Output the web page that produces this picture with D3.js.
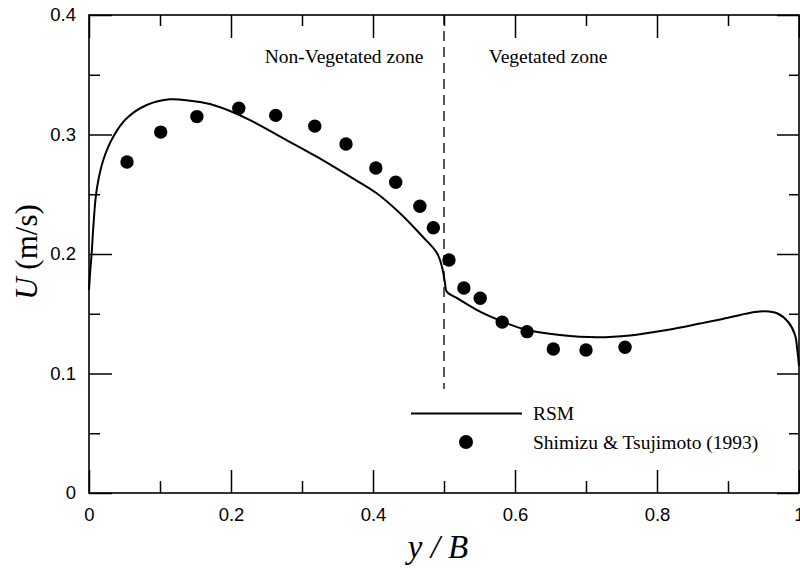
<!DOCTYPE html>
<html>
<head>
<meta charset="utf-8">
<script src="https://cdn.jsdelivr.net/npm/d3@7"></script>
<style>
  body { margin: 0; background: #fff; }
  svg { display: block; }
</style>
</head>
<body>
<div id="chart"></div>
<script>
// RSM model profile
const rsmX = [0, 0.002, 0.0038, 0.0061, 0.0108, 0.0201, 0.0342, 0.0531, 0.0813, 0.1141, 0.1423, 0.1704,
  0.1986, 0.2268, 0.2737, 0.3207, 0.3676, 0.4052, 0.438, 0.4704, 0.4901, 0.4972, 0.5014, 0.5038,
  0.5179, 0.5507, 0.5831, 0.6169, 0.6634, 0.7151, 0.762, 0.8137, 0.8606, 0.8887, 0.9169, 0.938,
  0.9521, 0.969, 0.9845, 0.9944, 0.9976, 1.0];
const rsmU = [0.170, 0.188, 0.2008, 0.2228, 0.2536, 0.2787, 0.2982, 0.3136, 0.3247, 0.3295, 0.3283, 0.3255,
  0.3197, 0.3121, 0.2968, 0.2814, 0.2647, 0.2508, 0.2341, 0.2142, 0.2008, 0.1891, 0.1757, 0.1685,
  0.1632, 0.1517, 0.1433, 0.1364, 0.1322, 0.1303, 0.1318, 0.1364, 0.1418, 0.1452, 0.149, 0.1515,
  0.1521, 0.1504, 0.1433, 0.1322, 0.1197, 0.1063];

// Shimizu & Tsujimoto (1993) measurements
const expX = [0.0535, 0.101, 0.152, 0.211, 0.263, 0.318, 0.362, 0.404, 0.432, 0.466, 0.485, 0.507,
  0.528, 0.551, 0.582, 0.617, 0.654, 0.700, 0.755];
const expU = [0.277, 0.302, 0.315, 0.322, 0.316, 0.307, 0.292, 0.272, 0.260, 0.240, 0.222, 0.195,
  0.1715, 0.163, 0.143, 0.135, 0.1205, 0.1197, 0.122];

const xMajor = [0, 0.2, 0.4, 0.6, 0.8, 1];
const xLabels = ["0", "0.2", "0.4", "0.6", "0.8", "1"];
const xMinor = [0.1, 0.3, 0.5, 0.7, 0.9];
const yMajor = [0, 0.1, 0.2, 0.3, 0.4];
const yLabels = ["0", "0.1", "0.2", "0.3", "0.4"];
const yMinor = [0.05, 0.15, 0.25, 0.35];

const zoneBoundary = 0.5;

const W = 800, H = 570;
const svg = d3.select("#chart").append("svg")
  .attr("width", W).attr("height", H);

const x = d3.scaleLinear().domain([0, 1]).range([89, 799]);
const y = d3.scaleLinear().domain([0, 0.4]).range([493, 15]);

const tickFont = "'Liberation Sans', Arial, sans-serif";
const serif = "'Liberation Serif', 'Times New Roman', serif";

function styleAxis(g) {
  g.select(".domain").remove();
  g.selectAll("line").attr("stroke", "#000").attr("stroke-width", 1.5);
  g.selectAll("text").attr("font-family", tickFont).attr("font-size", 18.5).attr("fill", "#000");
}

// bottom axis: major ticks with labels, minor ticks
svg.append("g").attr("transform", `translate(0,${y(0)})`)
  .call(d3.axisBottom(x).tickValues(xMajor).tickSize(-23).tickPadding(15)
    .tickFormat((d, i) => xLabels[i]))
  .call(styleAxis);
svg.append("g").attr("transform", `translate(0,${y(0)})`)
  .call(d3.axisBottom(x).tickValues(xMinor).tickSize(-12).tickFormat(""))
  .call(styleAxis);

// top axis
svg.append("g").attr("transform", `translate(0,${y(0.4)})`)
  .call(d3.axisTop(x).tickValues(xMajor).tickSize(-23).tickFormat(""))
  .call(styleAxis);
svg.append("g").attr("transform", `translate(0,${y(0.4)})`)
  .call(d3.axisTop(x).tickValues(xMinor).tickSize(-11).tickFormat(""))
  .call(styleAxis);

// left axis
svg.append("g").attr("transform", `translate(${x(0)},0)`)
  .call(d3.axisLeft(y).tickValues(yMajor).tickSize(-23).tickPadding(13)
    .tickFormat((d, i) => yLabels[i]))
  .call(styleAxis);
svg.append("g").attr("transform", `translate(${x(0)},0)`)
  .call(d3.axisLeft(y).tickValues(yMinor).tickSize(-11).tickFormat(""))
  .call(styleAxis);

// right axis
svg.append("g").attr("transform", `translate(${x(1)},0)`)
  .call(d3.axisRight(y).tickValues(yMajor).tickSize(-22).tickFormat(""))
  .call(styleAxis);
svg.append("g").attr("transform", `translate(${x(1)},0)`)
  .call(d3.axisRight(y).tickValues(yMinor).tickSize(-10).tickFormat(""))
  .call(styleAxis);

// frame
svg.append("rect")
  .attr("x", x(0)).attr("y", y(0.4))
  .attr("width", x(1) - x(0)).attr("height", y(0) - y(0.4))
  .attr("fill", "none").attr("stroke", "#000").attr("stroke-width", 1.6);

// zone boundary
svg.append("line")
  .attr("x1", x(zoneBoundary)).attr("x2", x(zoneBoundary))
  .attr("y1", y(0.4)).attr("y2", y(0.087))
  .attr("stroke", "#000").attr("stroke-width", 1.3)
  .attr("stroke-dasharray", "10,6");

svg.append("text")
  .attr("x", 344).attr("y", 63)
  .attr("text-anchor", "middle")
  .attr("font-family", serif).attr("font-size", 19.5)
  .text("Non-Vegetated zone");
svg.append("text")
  .attr("x", 548).attr("y", 63)
  .attr("text-anchor", "middle")
  .attr("font-family", serif).attr("font-size", 19.5)
  .text("Vegetated zone");

// RSM curve
const line = d3.line()
  .x(d => x(d[0])).y(d => y(d[1]))
  .curve(d3.curveCatmullRom.alpha(0.5));
svg.append("path")
  .datum(rsmX.map((v, i) => [v, rsmU[i]]))
  .attr("d", line)
  .attr("fill", "none").attr("stroke", "#000").attr("stroke-width", 2);

// experimental points
svg.selectAll("circle.exp")
  .data(expX.map((v, i) => [v, expU[i]]))
  .join("circle")
  .attr("class", "exp")
  .attr("cx", d => x(d[0])).attr("cy", d => y(d[1]))
  .attr("r", 6.7).attr("fill", "#000");

// legend
const legend = svg.append("g");
legend.append("line")
  .attr("x1", 411).attr("x2", 522).attr("y1", 413.5).attr("y2", 413.5)
  .attr("stroke", "#000").attr("stroke-width", 2);
legend.append("text")
  .attr("x", 533).attr("y", 420)
  .attr("font-family", serif).attr("font-size", 19.5)
  .text("RSM");
legend.append("circle")
  .attr("cx", 466).attr("cy", 442).attr("r", 7).attr("fill", "#000");
legend.append("text")
  .attr("x", 533).attr("y", 449)
  .attr("font-family", serif).attr("font-size", 19.5)
  .text("Shimizu & Tsujimoto (1993)");

// axis titles
svg.append("text")
  .attr("transform", "translate(37,252) rotate(-90)")
  .attr("text-anchor", "middle")
  .attr("font-family", serif).attr("font-size", 31)
  .html('<tspan font-style="italic">U</tspan> (m/s)');

svg.append("text")
  .attr("x", 438).attr("y", 558)
  .attr("text-anchor", "middle")
  .attr("font-family", serif).attr("font-size", 33).attr("font-style", "italic")
  .text("y / B");
</script>
</body>
</html>
